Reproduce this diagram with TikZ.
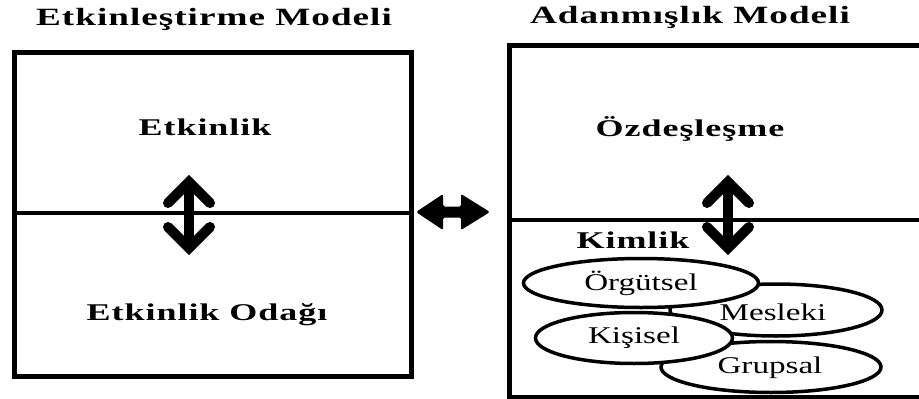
\documentclass[tikz,border=0pt]{standalone}
\usepackage{fontspec}
\usetikzlibrary{calc,shapes.geometric}
\setmainfont{Liberation Serif}
\newfontfamily\boldwide{Liberation Serif Bold}[FakeStretch=1.5,LetterSpace=4]
\newfontfamily\plainwide{Liberation Serif}[FakeStretch=1.38]
\begin{document}
\begin{tikzpicture}[x=1pt,y=-1pt,
  frame/.style={draw,line width=4.5pt},
  divider/.style={line width=3.4pt},
  title/.style={font=\boldwide\fontsize{24.8}{25}\selectfont,inner sep=0pt},
  label/.style={font=\boldwide\fontsize{24}{24}\selectfont,inner sep=0pt},
  kindtext/.style={font=\plainwide\fontsize{24}{24}\selectfont},
  kind/.style={draw,line width=3.5pt,fill=white,ellipse,inner sep=0pt,kindtext},
  shaft/.style={line width=10pt},
  chevron/.style={line width=10pt,miter limit=4,line cap=round},
  bothways/.style={fill=black,rounded corners=1.5pt}]
\useasboundingbox (0,0) rectangle (919,399);
\clip (0,0) rectangle (919,399);

% left model: activation
\node[title] (ltitle) at (214,19) {Etkinleştirme Modeli};
\node[frame,minimum width=397pt,minimum height=324pt,anchor=north west,inner sep=0pt] (lbox) at (12,50) {};
\coordinate (ldivL) at (12,213);
\coordinate (ldivR) at (410,213);
\draw[divider] (ldivL) -- (ldivR);
\node[label] (etk) at (205,127) {Etkinlik};
\node[label] (odak) at (207,315) {Etkinlik Odağı};

% vertical two-way arrow between the two halves
\coordinate (la) at (189,182);
\coordinate (lb) at (189,248);
\draw[shaft] (la) -- (lb);
\draw[chevron] ($(la)+(-21,21)$) -- (la) -- ($(la)+(21,21)$);
\draw[chevron] ($(lb)+(-21,-21)$) -- (lb) -- ($(lb)+(21,-21)$);

% right model: commitment
\node[title] (rtitle) at (690,17) {Adanmışlık Modeli};
\node[frame,minimum width=430pt,minimum height=352pt,anchor=north west,inner sep=0pt] (rbox) at (507,43) {};
\coordinate (rdivL) at (507,220);
\coordinate (rdivR) at (925,220);
\draw[divider] (rdivL) -- (rdivR);
\node[label] (ozd) at (690,129) {Özdeşleşme};
\node[label] (kim) at (633,240) {Kimlik};

\coordinate (ra) at (728,182);
\coordinate (rb) at (728,248);
\draw[shaft] (ra) -- (rb);
\draw[chevron] ($(ra)+(-21,21)$) -- (ra) -- ($(ra)+(21,21)$);
\draw[chevron] ($(rb)+(-21,-21)$) -- (rb) -- ($(rb)+(21,-21)$);

% identity kinds
\node[kind,minimum width=220pt,minimum height=51pt] (grup) at (771,367) {};
\node[kindtext] (grupt) at (770,368) {Grupsal};
\node[kind,minimum width=212pt,minimum height=52pt] (mesl) at (776,310) {};
\node[kindtext] (meslt) at (773,312) {Mesleki};
\node[kind,minimum width=197pt,minimum height=51pt] (kisi) at (634,338) {Kişisel};
\node[kind,minimum width=235pt,minimum height=49pt] (orgu) at (641,283) {Örgütsel};

% horizontal two-way arrow linking the models
\coordinate (hl) at (416,212);
\coordinate (hr) at (490,212);
\fill[bothways] (hl) -- (443,194) -- (443,206.5) -- (461,206.5) -- (461,194)
  -- (hr) -- (461,230) -- (461,217.5) -- (443,217.5) -- (443,230) -- cycle;
\end{tikzpicture}
\end{document}
